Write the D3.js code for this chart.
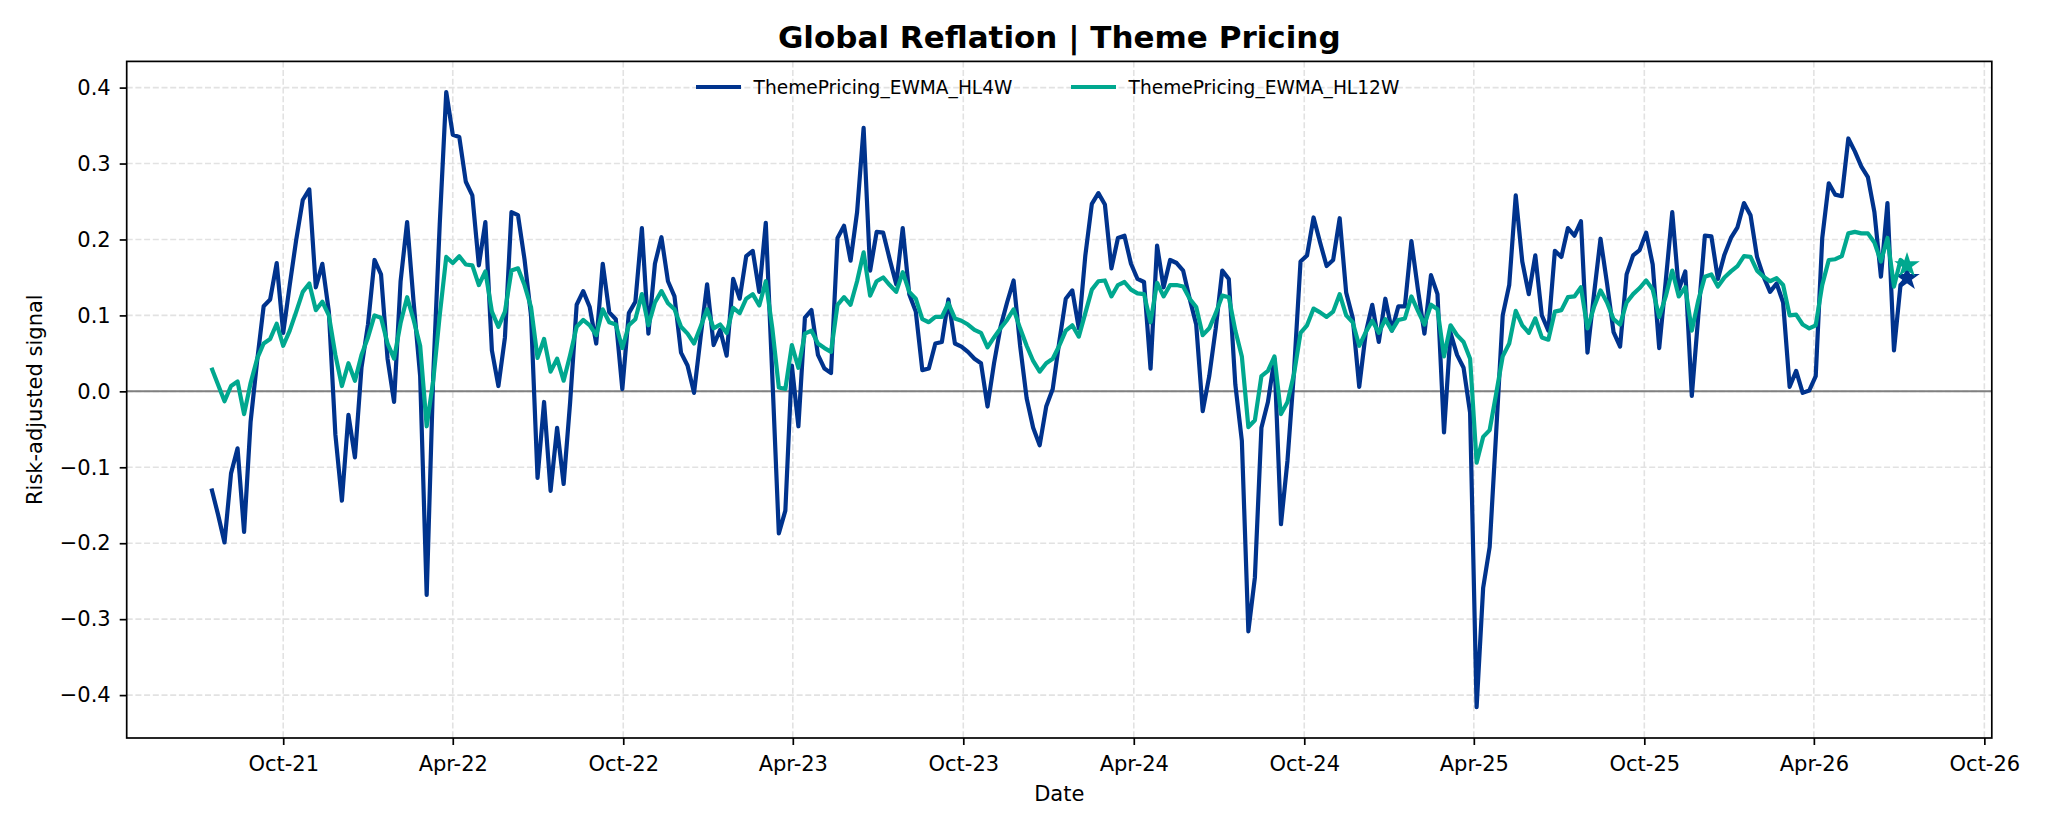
<!DOCTYPE html>
<html>
<head>
<meta charset="utf-8">
<script src="https://cdn.jsdelivr.net/npm/d3@7"></script>
<style>
  body { margin: 0; background: #fff; }
  svg { display: block; font-family: "DejaVu Sans", sans-serif; }
</style>
</head>
<body>
<svg id="chart" width="2048" height="832"></svg>
<script>
// weekly observations, first one on this date
const startDate = new Date(2021, 6, 16);

const seriesNames = ['ThemePricing_EWMA_HL4W', 'ThemePricing_EWMA_HL12W'];

const hl4w = [
  -0.128, -0.162, -0.199, -0.108, -0.075, -0.185, -0.04, 0.04, 0.112, 0.121,
  0.169, 0.077, 0.14, 0.2, 0.252, 0.266, 0.137, 0.168, 0.105, -0.057,
  -0.144, -0.031, -0.087, 0.031, 0.088, 0.173, 0.154, 0.043, -0.014, 0.145,
  0.223, 0.117, 0.02, -0.268, 0.02, 0.22, 0.394, 0.338, 0.335, 0.276,
  0.258, 0.166, 0.223, 0.054, 0.007, 0.071, 0.236, 0.232, 0.174, 0.1,
  -0.114, -0.014, -0.131, -0.048, -0.122, -0.014, 0.114, 0.132, 0.111, 0.063,
  0.168, 0.104, 0.095, 0.003, 0.103, 0.118, 0.215, 0.076, 0.168, 0.203,
  0.145, 0.125, 0.051, 0.034, -0.002, 0.071, 0.141, 0.061, 0.081, 0.047,
  0.148, 0.122, 0.178, 0.185, 0.131, 0.222, 0.02, -0.187, -0.157, 0.034,
  -0.046, 0.097, 0.107, 0.048, 0.03, 0.024, 0.202, 0.218, 0.172, 0.236,
  0.347, 0.159, 0.21, 0.209, 0.174, 0.141, 0.215, 0.128, 0.105, 0.028,
  0.03, 0.063, 0.065, 0.121, 0.063, 0.059, 0.052, 0.043, 0.037, -0.02,
  0.037, 0.085, 0.117, 0.146, 0.06, -0.009, -0.048, -0.071, -0.02, 0.003,
  0.065, 0.122, 0.133, 0.083, 0.179, 0.247, 0.261, 0.246, 0.162, 0.202,
  0.205, 0.168, 0.148, 0.144, 0.03, 0.192, 0.137, 0.173, 0.169, 0.159,
  0.122, 0.088, -0.026, 0.02, 0.083, 0.159, 0.148, 0.009, -0.065, -0.316,
  -0.245, -0.048, -0.014, 0.043, -0.175, -0.091, 0.026, 0.171, 0.179, 0.229,
  0.196, 0.165, 0.173, 0.228, 0.13, 0.097, 0.006, 0.077, 0.114, 0.065,
  0.122, 0.08, 0.112, 0.112, 0.198, 0.134, 0.076, 0.153, 0.128, -0.054,
  0.077, 0.048, 0.031, -0.028, -0.416, -0.259, -0.205, -0.054, 0.1, 0.14,
  0.258, 0.171, 0.128, 0.179, 0.1, 0.08, 0.185, 0.177, 0.215, 0.205,
  0.224, 0.051, 0.128, 0.201, 0.142, 0.078, 0.059, 0.154, 0.179, 0.186,
  0.209, 0.167, 0.057, 0.145, 0.236, 0.134, 0.158, -0.006, 0.1, 0.205,
  0.204, 0.148, 0.18, 0.202, 0.216, 0.248, 0.232, 0.177, 0.151, 0.131,
  0.142, 0.117, 0.006, 0.027, -0.002, 0.001, 0.02, 0.202, 0.274, 0.259,
  0.257, 0.333, 0.316, 0.296, 0.282, 0.236, 0.151, 0.248, 0.054, 0.14,
  0.149
];

const hl12w = [
  0.031, 0.009, -0.013, 0.007, 0.013, -0.03, 0.011, 0.043, 0.063, 0.069,
  0.089, 0.06, 0.08, 0.105, 0.131, 0.142, 0.107, 0.118, 0.1, 0.048,
  0.007, 0.037, 0.014, 0.048, 0.071, 0.1, 0.097, 0.063, 0.043, 0.09,
  0.124, 0.094, 0.06, -0.046, 0.014, 0.1, 0.177, 0.169, 0.178, 0.167,
  0.166, 0.14, 0.158, 0.105, 0.085, 0.105, 0.159, 0.162, 0.14, 0.111,
  0.044, 0.069, 0.026, 0.043, 0.014, 0.048, 0.085, 0.094, 0.087, 0.074,
  0.108, 0.091, 0.088, 0.057, 0.087, 0.095, 0.128, 0.087, 0.117, 0.132,
  0.116, 0.108, 0.085, 0.076, 0.063, 0.085, 0.108, 0.083, 0.088, 0.077,
  0.11, 0.103, 0.122, 0.128, 0.113, 0.145, 0.083, 0.005, 0.003, 0.061,
  0.031, 0.076, 0.08, 0.063, 0.057, 0.052, 0.114, 0.124, 0.114, 0.145,
  0.183, 0.126, 0.145, 0.15, 0.14, 0.131, 0.157, 0.131, 0.122, 0.095,
  0.091, 0.098, 0.098, 0.116, 0.096, 0.093, 0.088, 0.081, 0.077, 0.058,
  0.071, 0.083, 0.094, 0.108, 0.083, 0.06, 0.04, 0.026, 0.037, 0.043,
  0.06, 0.08, 0.087, 0.072, 0.103, 0.134, 0.145, 0.146, 0.125, 0.14,
  0.144, 0.134, 0.129, 0.128, 0.091, 0.143, 0.125, 0.14, 0.14, 0.138,
  0.122, 0.111, 0.074, 0.083, 0.103, 0.126, 0.124, 0.08, 0.046, -0.047,
  -0.038, 0.02, 0.027, 0.046, -0.03, -0.014, 0.023, 0.077, 0.087, 0.109,
  0.104, 0.098, 0.105, 0.128, 0.1, 0.091, 0.06, 0.078, 0.093, 0.077,
  0.095, 0.08, 0.094, 0.096, 0.125, 0.106, 0.088, 0.114, 0.108, 0.046,
  0.087, 0.074, 0.065, 0.043, -0.094, -0.06, -0.051, -0.003, 0.046, 0.063,
  0.106, 0.087, 0.077, 0.096, 0.071, 0.068, 0.105, 0.107, 0.124, 0.125,
  0.137, 0.083, 0.111, 0.133, 0.117, 0.095, 0.088, 0.117, 0.128, 0.136,
  0.146, 0.134, 0.098, 0.125, 0.159, 0.125, 0.137, 0.08, 0.12, 0.151,
  0.154, 0.138, 0.15, 0.158, 0.165, 0.178, 0.177, 0.159, 0.151, 0.145,
  0.149, 0.14, 0.1, 0.101, 0.088, 0.083, 0.087, 0.14, 0.173, 0.174,
  0.178, 0.208, 0.21, 0.208, 0.208, 0.196, 0.171, 0.202, 0.138, 0.173,
  0.166
];

const xTickDates = ['2021-10-01', '2022-04-01', '2022-10-01', '2023-04-01', '2023-10-01',
  '2024-04-01', '2024-10-01', '2025-04-01', '2025-10-01', '2026-04-01', '2026-10-01'];
const yTicks = [-0.4, -0.3, -0.2, -0.1, 0, 0.1, 0.2, 0.3, 0.4];

const colors = ['#00338D', '#00A88F'];

const svg = d3.select('svg');
const width = +svg.attr('width');
const height = +svg.attr('height');
const margin = { top: 61.4, right: 56.2, bottom: 94, left: 126.7 };

const dates = hl4w.map((d, i) => d3.timeDay.offset(startDate, i * 7));
const parseDate = d3.timeParse('%Y-%m-%d');
const xTicks = xTickDates.map(parseDate);

// matplotlib style 5% margins
const t0 = dates[0].getTime();
const t1 = dates[dates.length - 1].getTime();
const tPad = (t1 - t0) * 0.05;

const allVals = hl4w.concat(hl12w);
const yMin = d3.min(allVals);
const yMax = d3.max(allVals);
const yPad = (yMax - yMin) * 0.05;

const xScale = d3.scaleTime()
  .domain([new Date(t0 - tPad), new Date(t1 + tPad)])
  .range([margin.left, width - margin.right]);

const yScale = d3.scaleLinear()
  .domain([yMin - yPad, yMax + yPad])
  .range([height - margin.bottom, margin.top]);

// grid
const grid = svg.append('g')
  .attr('stroke', '#e2e2e2')
  .attr('stroke-width', 1.6)
  .attr('stroke-dasharray', '6,2.7');

grid.selectAll('.vgrid').data(xTicks).enter()
  .append('line')
  .attr('x1', d => xScale(d)).attr('x2', d => xScale(d))
  .attr('y1', margin.top).attr('y2', height - margin.bottom);

grid.selectAll('.hgrid').data(yTicks).enter()
  .append('line')
  .attr('x1', margin.left).attr('x2', width - margin.right)
  .attr('y1', d => yScale(d)).attr('y2', d => yScale(d));

// zero line
svg.append('line')
  .attr('x1', margin.left).attr('x2', width - margin.right)
  .attr('y1', yScale(0)).attr('y2', yScale(0))
  .attr('stroke', '#808080')
  .attr('stroke-width', 2);

const line = d3.line()
  .x((d, i) => xScale(dates[i]))
  .y(d => yScale(d));

const star = d3.symbol().type(d3.symbolStar).size(135);

[hl4w, hl12w].forEach((series, k) => {
  svg.append('path')
    .datum(series)
    .attr('fill', 'none')
    .attr('stroke', colors[k])
    .attr('stroke-width', 4.2)
    .attr('stroke-linejoin', 'round')
    .attr('d', line);

  let last = series.length - 1;
  svg.append('path')
    .attr('d', star())
    .attr('transform', `translate(${xScale(dates[last])},${yScale(series[last])})`)
    .attr('fill', colors[k])
    .attr('stroke', colors[k])
    .attr('stroke-width', 1.5);
});

// frame
svg.append('rect')
  .attr('x', margin.left).attr('y', margin.top)
  .attr('width', width - margin.left - margin.right)
  .attr('height', height - margin.top - margin.bottom)
  .attr('fill', 'none')
  .attr('stroke', '#000')
  .attr('stroke-width', 1.7);

// axes
let styleAxis = g => {
  g.select('.domain').remove();
  g.selectAll('.tick line').attr('stroke', '#000').attr('stroke-width', 1.7);
  g.selectAll('.tick text').attr('fill', '#000').style('font-size', '21px')
    .style('font-family', '"DejaVu Sans", sans-serif');
};

svg.append('g')
  .attr('transform', `translate(0,${height - margin.bottom})`)
  .call(d3.axisBottom(xScale).tickValues(xTicks)
    .tickFormat(d3.timeFormat('%b-%y')).tickSize(7).tickPadding(11))
  .call(styleAxis);

svg.append('g')
  .attr('transform', `translate(${margin.left},0)`)
  .call(d3.axisLeft(yScale).tickValues(yTicks)
    .tickFormat(d3.format('.1f')).tickSize(7).tickPadding(9))
  .call(styleAxis);

const plotCenterX = (margin.left + width - margin.right) / 2;
const plotCenterY = (margin.top + height - margin.bottom) / 2;

// labels
svg.append('text')
  .attr('x', plotCenterX).attr('y', 48)
  .attr('text-anchor', 'middle')
  .style('font-size', '31px').style('font-weight', 'bold')
  .text('Global Reflation | Theme Pricing');

svg.append('text')
  .attr('x', plotCenterX).attr('y', 801)
  .attr('text-anchor', 'middle')
  .style('font-size', '21px')
  .text('Date');

svg.append('text')
  .attr('transform', `translate(42,${plotCenterY}) rotate(-90)`)
  .attr('text-anchor', 'middle')
  .style('font-size', '21px')
  .text('Risk-adjusted signal');

// legend
const legendOffsets = [0, 375];
const legend = svg.append('g').attr('transform', 'translate(696,87)');

seriesNames.forEach((name, k) => {
  let item = legend.append('g').attr('transform', `translate(${legendOffsets[k]},0)`);
  item.append('line')
    .attr('x1', 0).attr('x2', 45)
    .attr('stroke', colors[k])
    .attr('stroke-width', 4.2);
  item.append('text')
    .attr('x', 57.6).attr('y', 6.6)
    .style('font-size', '18.6px')
    .text(name);
});
</script>
</body>
</html>
